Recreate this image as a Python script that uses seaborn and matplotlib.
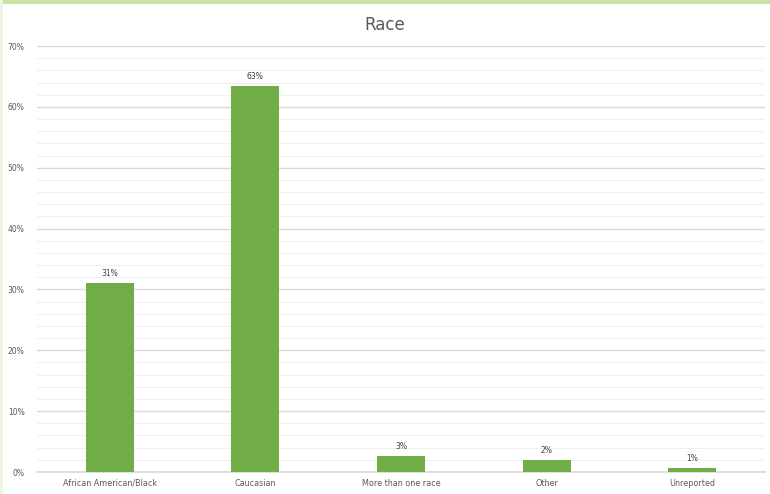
import matplotlib
matplotlib.use("Agg")
import matplotlib.pyplot as plt
import seaborn as sns
import pandas as pd
import numpy as np
from matplotlib.patches import Rectangle

categories = ["African American/Black", "Caucasian", "More than one race", "Other", "Unreported"]
values = [31.1, 63.4, 2.7, 2.0, 0.7]
labels = ["31%", "63%", "3%", "2%", "1%"]
title = "Race"

sns.set_theme(style="white")
plt.rcParams['font.family'] = ['DejaVu Sans']

df = pd.DataFrame({"cat": categories, "val": values})

fig = plt.figure(figsize=(7.7, 4.94), dpi=100)
fig.patch.set_facecolor("white")
# decorative frame strips
fig.patches.append(Rectangle((0, 1 - 4/494), 1, 4/494, transform=fig.transFigure,
                             facecolor="#C9E2A4", edgecolor="none", zorder=0))
fig.patches.append(Rectangle((0, 0), 3/770, 1, transform=fig.transFigure,
                             facecolor="#EEF5E4", edgecolor="none", zorder=0))

ax = fig.add_axes([37/770, 22/494, 728/770, 426/494])
sns.barplot(data=df, x="cat", y="val", color="#70AD47", saturation=1, width=0.33,
            linewidth=0, ax=ax, zorder=3)

ax.set_ylim(0, 70)
ax.set_xlim(-0.5, 4.5)
ax.set_yticks(np.arange(0, 71, 10))
ax.set_yticklabels([f"{v}%" for v in range(0, 71, 10)], fontsize=5.5, color="#595959")
ax.set_yticks(np.arange(0, 71, 2), minor=True)
ax.grid(axis="y", which="major", color="#D9D9D9", linewidth=1.0, zorder=0)
ax.grid(axis="y", which="minor", color="#F0F0F0", linewidth=0.8, zorder=0)
ax.set_axisbelow(True)
ax.tick_params(axis="y", length=0, pad=9)
ax.tick_params(axis="x", length=0, pad=5, labelsize=5.8, labelcolor="#595959")
ax.set_xlabel("")
ax.set_ylabel("")
for s in ["top", "right", "left"]:
    ax.spines[s].set_visible(False)
ax.spines["bottom"].set_color("#D9D9D9")

for i, (v, lab) in enumerate(zip(values, labels)):
    ax.text(i, v + 0.8, lab, ha="center", va="bottom", fontsize=5.5, color="#404040")

fig.text(0.5, 1 - 25/494, title, ha="center", va="center", fontsize=12, color="#595959")

fig.savefig("out.png", dpi=100, facecolor=fig.get_facecolor())
